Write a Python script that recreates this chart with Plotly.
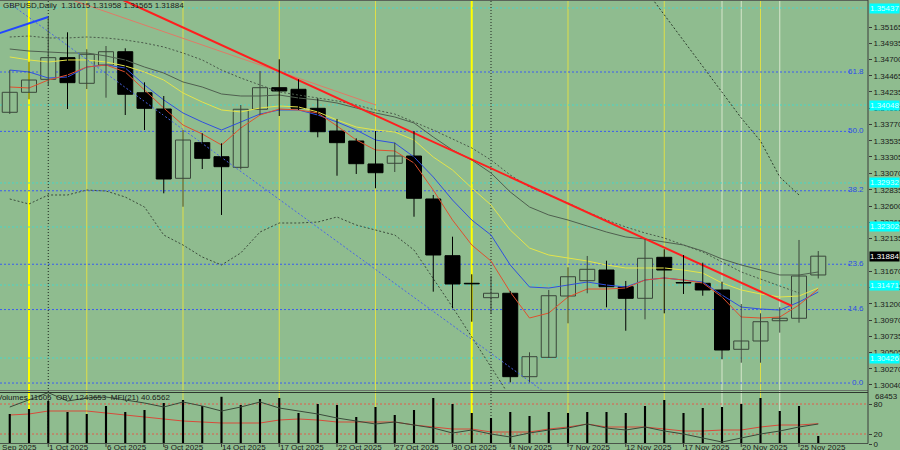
import plotly.graph_objects as go

# ---------------- data ----------------
dates = ["2025-09-29","2025-09-30","2025-10-01","2025-10-02","2025-10-03","2025-10-06","2025-10-07",
         "2025-10-08","2025-10-09","2025-10-10","2025-10-13","2025-10-14","2025-10-15","2025-10-16",
         "2025-10-17","2025-10-20","2025-10-21","2025-10-22","2025-10-23","2025-10-24","2025-10-27",
         "2025-10-28","2025-10-29","2025-10-30","2025-10-31","2025-11-03","2025-11-04","2025-11-05",
         "2025-11-06","2025-11-07","2025-11-10","2025-11-11","2025-11-12","2025-11-13","2025-11-14",
         "2025-11-17","2025-11-18","2025-11-19","2025-11-20","2025-11-21","2025-11-24","2025-11-25",
         "2025-11-26"]

opens  = [1.33944,1.34230,1.34416,1.34726,1.34359,1.34621,1.34811,1.34224,1.33991,1.32999,1.33509,
          1.33308,1.33156,1.33987,1.34296,1.34273,1.34001,1.33676,1.33533,1.33204,1.33214,1.33318,
          1.32703,1.31891,1.31496,1.31290,1.31353,1.30159,1.30436,1.31314,1.31533,1.31686,1.31447,
          1.31281,1.31868,1.31507,1.31496,1.31400,1.30551,1.30670,1.30960,1.30995,1.31615]
highs  = [1.34549,1.34668,1.35308,1.35089,1.34846,1.34893,1.34860,1.34373,1.34177,1.33690,1.33643,
          1.33500,1.34048,1.34535,1.34703,1.34416,1.34144,1.33848,1.33572,1.33676,1.33509,1.33676,
          1.32760,1.32163,1.31625,1.31600,1.31386,1.30508,1.31400,1.31725,1.31887,1.31819,1.31529,
          1.32130,1.31983,1.31901,1.31791,1.31519,1.31199,1.31066,1.31152,1.32116,1.31958]
lows   = [1.33920,1.34130,1.34320,1.33991,1.34277,1.34153,1.33905,1.33690,1.32784,1.32592,1.33132,
          1.32474,1.33128,1.33905,1.33891,1.33977,1.33586,1.33036,1.33061,1.32856,1.33089,1.32449,
          1.31376,1.31138,1.30946,1.31056,1.30078,1.30078,1.30430,1.30923,1.31353,1.31152,1.30817,
          1.30980,1.31066,1.31343,1.31318,1.30408,1.30359,1.30359,1.30789,1.30932,1.31565]
closes = [1.34230,1.34406,1.34726,1.34368,1.34774,1.34811,1.34202,1.34001,1.32989,1.33547,1.33285,
          1.33165,1.33987,1.34296,1.34249,1.34001,1.33666,1.33509,1.33208,1.33079,1.33318,1.32713,
          1.31901,1.31486,1.31488,1.31353,1.30159,1.30445,1.31318,1.31590,1.31696,1.31447,1.31281,
          1.31854,1.31686,1.31500,1.31400,1.30541,1.30670,1.30946,1.30995,1.31600,1.31884]

ma_blue   = [1.34549,1.34521,1.34435,1.34449,1.34592,1.34621,1.34578,1.34335,1.34120,1.33934,1.33805,
             1.33690,1.33805,1.33919,1.33977,1.33977,1.33905,1.33805,1.33690,1.33547,1.33504,1.33304,
             1.33018,1.32688,1.32402,1.32187,1.31758,1.31443,1.31428,1.31471,1.31514,1.31471,1.31443,
             1.31543,1.31572,1.31543,1.31514,1.31328,1.31156,1.31128,1.31113,1.31228,1.31371]
ma_red    = [1.34306,1.34292,1.34406,1.34478,1.34592,1.34621,1.34521,1.34263,1.34005,1.33762,1.33633,
             1.33476,1.33719,1.33905,1.33991,1.33977,1.33934,1.33748,1.33547,1.33404,1.33390,1.33218,
             1.32831,1.32402,1.32044,1.31815,1.31371,1.30999,1.31070,1.31300,1.31414,1.31414,1.31428,
             1.31543,1.31572,1.31543,1.31500,1.31300,1.31013,1.30999,1.31013,1.31185,1.31414]
ma_yellow = [1.34736,1.34693,1.34664,1.34693,1.34693,1.34664,1.34607,1.34521,1.34406,1.34221,1.34091,
             1.33977,1.33949,1.34005,1.34034,1.34020,1.33949,1.33834,1.33733,1.33690,1.33662,1.33547,
             1.33304,1.33118,1.32860,1.32617,1.32259,1.32001,1.31901,1.31858,1.31815,1.31758,1.31715,
             1.31715,1.31715,1.31686,1.31643,1.31500,1.31400,1.31343,1.31300,1.31314,1.31428]
ma_gray   = [1.34850,1.34821,1.34807,1.34793,1.34793,1.34750,1.34693,1.34592,1.34506,1.34378,1.34306,
             1.34206,1.34177,1.34177,1.34191,1.34149,1.34120,1.34077,1.34005,1.33934,1.33877,1.33791,
             1.33590,1.33404,1.33261,1.33075,1.32803,1.32588,1.32474,1.32402,1.32316,1.32230,1.32159,
             1.32130,1.32087,1.32044,1.31958,1.31844,1.31758,1.31686,1.31615,1.31615,1.31658]
band_upper = [1.35022,1.35036,1.35008,1.35008,1.35022,1.35008,1.34979,1.34936,1.34879,1.34793,1.34693,
              1.34549,1.34435,1.34335,1.34235,1.34191,1.34149,1.34106,1.34048,1.33977,1.33919,1.33805,
              1.33690,1.33562,1.33433,1.33261,1.33046,1.32874,1.32760,1.32645,1.32516,1.32402,1.32302,
              1.32216,1.32144,1.32044,1.31944,1.31801,1.31658,1.31557,1.31457,1.31357]
band_lower = [1.32703,1.32631,1.32760,1.32760,1.32831,1.32817,1.32731,1.32588,1.32187,1.32044,1.31872,
              1.31758,1.31930,1.32230,1.32359,1.32359,1.32373,1.32445,1.32330,1.32259,1.32187,1.31972,
              1.31572,1.31156,1.30727,1.30298,1.29868]
steep_band_start = 34
steep_band = [1.35709,1.35337,1.34965,1.34607,1.34221,1.33862,1.33533,1.33018,1.32760]

volumes = [43500,50750,62350,46400,43500,55100,46400,49300,59450,63800,55100,68453,56550,65250,66700,
           44950,58000,56550,39150,53650,42050,49300,66700,58000,44950,37700,46400,40600,46400,44950,
           46400,46400,44950,55100,63800,44950,52200,53650,58000,66700,47850,55100,11605]
obv = [1447653,1531653,1620000,1519653,1555653,1567653,1531653,1495653,1447653,1507653,1459653,
       1399653,1447653,1507653,1435653,1399653,1363653,1315653,1279653,1243653,1267653,1231653,
       1195653,1135653,1171653,1123653,1087653,1135653,1171653,1195653,1243653,1195653,1171653,
       1207653,1159653,1123653,1075653,1027653,1075653,1123653,1159653,1207653,1243653]
mfi = [58,60,66,66,66,62,58,54,50,46,44,42,42,42,48,50,48,44,44,44,44,38,34,30,30,24,24,24,30,34,
       40,34,34,34,30,26,26,28,28,34,38,38,40.6562]

# trend lines (bar position, price)
trend_red_x, trend_red_y = [5.883, 40.636], [1.35552, 1.31171]
trend_salmon_x, trend_salmon_y = [3.234, 19.026], [1.35552, 1.34048]
trend_blue_x, trend_blue_y = [-1.0, 2.0], [1.35034, 1.35308]
trend_bluedot_x, trend_bluedot_y = [0.013, 27.8], [1.35499, 1.29932]

fib_low, fib_high = 1.30068, 1.37273
fib_levels = [0.0, 14.6, 23.6, 38.2, 50.0, 61.8]
cyan_levels = [1.35437, 1.34048, 1.32932, 1.32302, 1.31471, 1.30426]
price_ticks = [1.35165,1.34935,1.34700,1.34465,1.34235,1.34000,1.33770,1.33535,1.33305,1.33070,
               1.32835,1.32600,1.32365,1.32135,1.31670,1.31435,1.31200,1.30970,1.30735,1.30505,
               1.30270,1.30040]
date_tick_pos = [-1, 2, 5, 8, 11, 14, 17, 20, 23, 26, 29, 32, 35, 38, 41]
date_tick_text = ["26 Sep 2025","1 Oct 2025","6 Oct 2025","9 Oct 2025","14 Oct 2025","17 Oct 2025",
                  "22 Oct 2025","27 Oct 2025","30 Oct 2025","4 Nov 2025","7 Nov 2025","12 Nov 2025",
                  "17 Nov 2025","20 Nov 2025","25 Nov 2025"]
vline_bright = ["2025-09-30", "2025-10-31"]
vline_yellow = ["2025-10-03","2025-10-10","2025-10-17","2025-10-24","2025-11-07","2025-11-14","2025-11-21"]
vline_white = ["2025-11-19","2025-11-20","2025-11-24"]
vline_sep = ["2025-10-01","2025-11-03"]

# ---------------- figure ----------------
BG = "#8fbc8f"
FONT = "Liberation Sans, Arial, sans-serif"
X0, X1 = -0.5065, 44.584
XD = 868 / 900
idx = list(range(len(dates)))
pos = {d: i for i, d in enumerate(dates)}


def xp(k):
    return (k - X0) / (X1 - X0) * XD


fig = go.Figure()

def line(x, y, color, width=1, dash=None, yaxis="y", xaxis="x"):
    fig.add_trace(go.Scatter(x=x, y=y, mode="lines", xaxis=xaxis, yaxis=yaxis, hoverinfo="skip",
                             line=dict(color=color, width=width, dash=dash), showlegend=False))

DOT = "2px,2px"
line(idx[:len(band_lower)], band_lower, "#3c4c3c", 1, DOT)
line(idx[:len(band_upper)], band_upper, "#4a5a4a", 1, DOT)
line(idx[steep_band_start - 1:steep_band_start - 1 + len(steep_band)], steep_band, "#2e3e2e", 1, DOT)
line(idx, ma_gray, "#4f5f4f", 1)
line(idx, ma_yellow, "#e4e44a", 1)
line(idx, ma_blue, "#3050e0", 1)
line(idx, ma_red, "#e0502e", 1)
line(trend_bluedot_x, trend_bluedot_y, "#4a66e8", 1, DOT)
line(trend_salmon_x, trend_salmon_y, "#e07a66", 1)
line(trend_red_x, trend_red_y, "#ff1e1e", 2)
line(trend_blue_x, trend_blue_y, "#2246ff", 2)

# wicks
for bull in (True, False):
    wx, wy = [], []
    for i in idx:
        if (closes[i] >= opens[i]) == bull:
            wx += [i, i, None]
            wy += [lows[i], highs[i], None]
    line(wx, wy, "#3a463a" if bull else "#000000", 1)

# bodies
base = [min(o, c) for o, c in zip(opens, closes)]
height = [max(abs(c - o), 0.00004) for o, c in zip(opens, closes)]
fill = [BG if c >= o else "#000000" for o, c in zip(opens, closes)]
edge = ["#3a463a" if c >= o else "#000000" for o, c in zip(opens, closes)]
fig.add_trace(go.Bar(x=idx, y=height, base=base, width=0.78, hoverinfo="skip", showlegend=False,
                     marker=dict(color=fill, line=dict(color=edge, width=1))))

# indicator panel
fig.add_trace(go.Bar(x=idx, y=volumes, width=0.11, xaxis="x2", yaxis="y3", hoverinfo="skip",
                     showlegend=False, marker=dict(color="#000000", line=dict(width=0))))
line(idx, obv, "#3a4a3a", 1, None, "y4", "x2")
line(idx, mfi, "#d84a3a", 1, None, "y2", "x2")

shapes = []
PT = 7 / 450
for d in vline_yellow:
    shapes.append(dict(type="line", xref="x", yref="paper", x0=pos[d], x1=pos[d], y0=PT, y1=1,
                       line=dict(color="#dede48", width=1), layer="below"))
for d in vline_white:
    shapes.append(dict(type="line", xref="x", yref="paper", x0=pos[d], x1=pos[d], y0=PT, y1=1,
                       line=dict(color="#d6e6cc", width=1), layer="below"))
for d in vline_bright:
    shapes.append(dict(type="line", xref="x", yref="paper", x0=pos[d], x1=pos[d], y0=PT, y1=1,
                       line=dict(color="#ffff00", width=2), layer="below"))
for d in vline_sep:
    shapes.append(dict(type="line", xref="x", yref="paper", x0=pos[d], x1=pos[d], y0=PT, y1=1,
                       line=dict(color="#1e261e", width=1, dash="1px,2px"), layer="below"))
for lv in cyan_levels:
    shapes.append(dict(type="line", xref="paper", yref="y", x0=0, x1=XD, y0=lv, y1=lv,
                       line=dict(color="#4ad6c6", width=1, dash=DOT), layer="below"))
for f in fib_levels:
    p = fib_low + (fib_high - fib_low) * f / 100
    shapes.append(dict(type="line", xref="paper", yref="y", x0=0, x1=851 / 900, y0=p, y1=p,
                       line=dict(color="#3a5cf0", width=1, dash=DOT), layer="below"))
for m in (20, 80):
    shapes.append(dict(type="line", xref="paper", yref="y2", x0=0, x1=XD, y0=m, y1=m,
                       line=dict(color="#e25a4a", width=1, dash=DOT), layer="below"))
# frame lines
for yy, col in ((1 - 0.5 / 450, "#5a645a"), (1 - 390.5 / 450, "#6a766a"), (1 - 392.5 / 450, "#2e362e"),
                (1 - 443.5 / 450, "#4a544a")):
    shapes.append(dict(type="line", xref="paper", yref="paper", x0=0, x1=XD, y0=yy, y1=yy,
                       line=dict(color=col, width=1)))
shapes.append(dict(type="line", xref="paper", yref="paper", x0=XD, x1=XD, y0=1 - 443.5 / 450, y1=1,
                   line=dict(color="#3a3a3a", width=1)))

ann = []
TXT = "#1a1a1a"
ann.append(dict(text="GBPUSD,Daily\u00a0\u00a0" + " ".join(f"{v:.5f}" for v in
                (opens[-1], highs[-1], lows[-1], closes[-1])),
                xref="paper", yref="paper", x=1 / 900, y=1 - 5.5 / 450, xanchor="left", yanchor="middle",
                showarrow=False, font=dict(family=FONT, size=8, color=TXT)))
ann.append(dict(text=f"Volumes {volumes[-1]}\u00a0\u00a0OBV {obv[-1]}\u00a0\u00a0MFI(21) {mfi[-1]:.4f}",
                xref="paper", yref="paper", x=-5 / 900, y=1 - 397 / 450, xanchor="left", yanchor="middle",
                showarrow=False, font=dict(family=FONT, size=8, color=TXT)))
for f in fib_levels:
    p = fib_low + (fib_high - fib_low) * f / 100
    ann.append(dict(text=f"{f:.1f}", xref="paper", yref="y", x=866 / 900, y=p, xanchor="right",
                    yanchor="middle", yshift=1, showarrow=False,
                    font=dict(family=FONT, size=8, color="#2a4ce8")))
for lv in cyan_levels:
    ann.append(dict(text=f"{lv:.5f}", xref="paper", yref="y", x=869 / 900, y=lv, xanchor="left",
                    yanchor="middle", showarrow=False, bgcolor="#00ffff", borderpad=0,
                    font=dict(family=FONT, size=8, color="#d8ffff")))
ann.append(dict(text=f"{closes[-1]:.5f}", xref="paper", yref="y", x=869 / 900, y=closes[-1],
                xanchor="left", yanchor="middle", showarrow=False, bgcolor="#000000", borderpad=0,
                font=dict(family=FONT, size=8, color="#ffffff")))
ann.append(dict(text=str(max(volumes)), xref="paper", yref="paper", x=873 / 900, y=1 - 396 / 450,
                xanchor="left", yanchor="middle", showarrow=False, font=dict(family=FONT, size=8, color=TXT)))
for k, t in zip(date_tick_pos, date_tick_text):
    ann.append(dict(text=t, xref="paper", yref="paper", x=xp(k) - 1.5 / 900, y=1 - 447 / 450,
                    xanchor="left", yanchor="middle", showarrow=False,
                    font=dict(family=FONT, size=8, color=TXT)))
    shapes.append(dict(type="line", xref="paper", yref="paper", x0=xp(k), x1=xp(k),
                       y0=1 - 447 / 450, y1=1 - 443.5 / 450, line=dict(color="#3a3a3a", width=1)))

axis_font = dict(family=FONT, size=8, color=TXT)
fig.update_layout(
    width=900, height=450, margin=dict(l=0, r=0, t=0, b=0, pad=0, autoexpand=False),
    paper_bgcolor=BG, plot_bgcolor=BG, barmode="overlay", showlegend=False,
    xaxis=dict(domain=[0, XD], range=[X0, X1], visible=False, anchor="y", automargin=False),
    yaxis=dict(domain=[59 / 450, 1], range=[1.29954, 1.355515], side="right", anchor="x",
               tickvals=price_ticks, ticktext=[f"{v:.5f}" for v in price_ticks], automargin=False,
               ticks="outside", ticklen=3, tickcolor="#3a3a3a", showgrid=False, zeroline=False,
               showline=False, tickfont=axis_font),
    xaxis2=dict(domain=[0, XD], range=[X0, X1], visible=False, anchor="y2", matches="x",
                automargin=False),
    yaxis2=dict(domain=[6 / 450, 58 / 450], range=[0, 104], side="right", anchor="x2",
                tickvals=[0, 20, 80], ticks="outside", ticklen=3, tickcolor="#3a3a3a", automargin=False,
                showgrid=False, zeroline=False, showline=False, tickfont=axis_font),
    yaxis3=dict(overlaying="y2", anchor="x2", range=[0, 75400], visible=False),
    yaxis4=dict(overlaying="y2", anchor="x2", range=[1003653, 1627653], visible=False),
    shapes=shapes, annotations=ann,
)

fig.write_html("out.html", config={"displayModeBar": False},
               post_script="document.body.style.margin='0';document.body.style.overflow='hidden';")
